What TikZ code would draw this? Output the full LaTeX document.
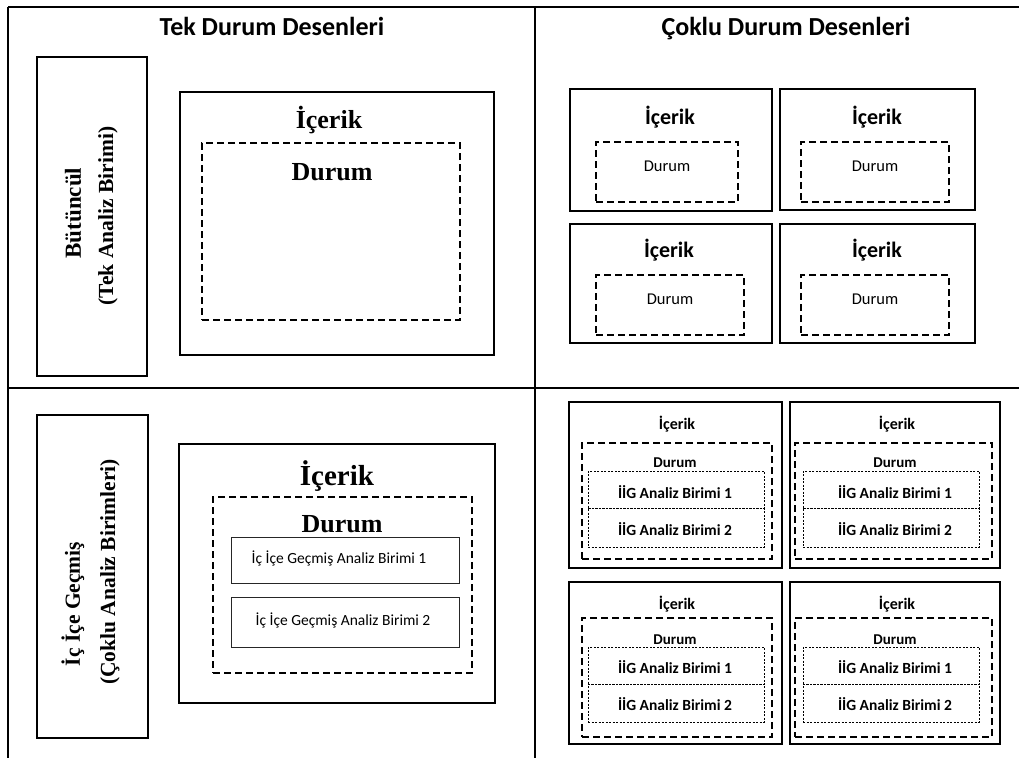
\documentclass[tikz,border=0pt]{standalone}
\usepackage{fontspec}
\setmainfont{Liberation Serif}
\newfontfamily\carl{Carlito}
\begin{document}
\begin{tikzpicture}[x=1pt,y=-1pt,
  grid/.style={line width=1.6pt},
  panel/.style={draw,line width=2.2pt,inner sep=0pt,outer sep=0pt},
  casebox/.style={draw,line width=2.2pt,dash pattern=on 7pt off 4pt,inner sep=0pt,outer sep=0pt},
  unitbox/.style={draw,line width=0.8pt,inner sep=0pt,outer sep=0pt},
  dotbox/.style={draw,line width=0.8pt,dash pattern=on 2pt off 1.5pt,inner sep=0pt,outer sep=0pt},
  head/.style={font=\carl\fontsize{26}{30}\selectfont\bfseries,anchor=base,inner sep=0pt},
  serifbig/.style={font=\fontsize{26}{30}\selectfont\bfseries,inner sep=0pt},
  sidetext/.style={font=\fontsize{21.5}{24}\selectfont\bfseries,rotate=90,inner sep=0pt},
  sanstitle/.style={font=\carl\fontsize{22}{26}\selectfont\bfseries,inner sep=0pt},
  sanscase/.style={font=\carl\fontsize{16.5}{20}\selectfont,inner sep=0pt},
  unittext/.style={font=\carl\fontsize{15.5}{18}\selectfont,inner sep=0pt},
  smalltitle/.style={font=\carl\fontsize{16}{19}\selectfont\bfseries,inner sep=0pt},
  smallcase/.style={font=\carl\fontsize{15}{18}\selectfont\bfseries,inner sep=0pt},
  iigtext/.style={font=\carl\fontsize{15.5}{18}\selectfont\bfseries,inner sep=0pt}
]
\useasboundingbox (0,0) rectangle (1019,758);

% table rules
\coordinate (tl) at (8,7);
\coordinate (tr) at (1019,7);
\coordinate (bl) at (8,758);
\coordinate (mt) at (535,7);
\coordinate (mb) at (535,758);
\coordinate (ml) at (8,388);
\coordinate (mr) at (1019,388);
\draw[grid] (tl) -- (tr);
\draw[grid] (tl) -- (bl);
\draw[grid] (mt) -- (mb);
\draw[grid] (ml) -- (mr);

% column headers
\node[head] (hsingle) at (272,35) {Tek Durum Desenleri};
\node[head] (hmulti) at (786,35) {Çoklu Durum Desenleri};

% ---- holistic, single case ----
\node[panel,minimum width=110pt,minimum height=319pt] (hol) at (92,216.5) {};
\node[sidetext,font=\fontsize{23}{26}\selectfont\bfseries] (holA) at (73,213) {Bütüncül};
\node[sidetext] (holB) at (108,216) {(Tek Analiz Birimi)};

\node[panel,minimum width=314pt,minimum height=263pt] (s1ctx) at (337,223.5) {};
\node[casebox,minimum width=258pt,minimum height=177pt] (s1case) at (331,231.5) {};
\node[serifbig] (s1ctxT) at (329,120) {İçerik};
\node[serifbig] (s1caseT) at (332,172) {Durum};

% ---- holistic, multiple cases ----
\node[panel,minimum width=202pt,minimum height=122pt] (mA) at (671,150) {};
\node[casebox,minimum width=142pt,minimum height=60pt] (mAc) at (667,172) {};
\node[sanstitle] (mAt) at (670,117) {İçerik};
\node[sanscase] (mAd) at (667,166) {Durum};

\node[panel,minimum width=195pt,minimum height=121pt] (mB) at (877.5,149.5) {};
\node[casebox,minimum width=148pt,minimum height=60pt] (mBc) at (875,172) {};
\node[sanstitle] (mBt) at (877,117) {İçerik};
\node[sanscase] (mBd) at (875,166) {Durum};

\node[panel,minimum width=202pt,minimum height=119pt] (mC) at (671,283.5) {};
\node[casebox,minimum width=148pt,minimum height=60pt] (mCc) at (670,305) {};
\node[sanstitle] (mCt) at (669,250) {İçerik};
\node[sanscase] (mCd) at (670,299) {Durum};

\node[panel,minimum width=195pt,minimum height=119pt] (mD) at (877.5,283.5) {};
\node[casebox,minimum width=148pt,minimum height=60pt] (mDc) at (875,305) {};
\node[sanstitle] (mDt) at (877,250) {İçerik};
\node[sanscase] (mDd) at (875,299) {Durum};

% ---- embedded, single case ----
\node[panel,minimum width=111pt,minimum height=323pt] (emb) at (92.5,576.5) {};
\node[sidetext] (embA) at (73,604) {İç İçe Geçmiş};
\node[sidetext] (embB) at (110,572) {(Çoklu Analiz Birimleri)};

\node[panel,minimum width=316pt,minimum height=259pt] (s2ctx) at (337,573.5) {};
\node[casebox,minimum width=259pt,minimum height=176pt] (s2case) at (342.5,585) {};
\node[serifbig,font=\fontsize{29}{33}\selectfont\bfseries] (s2ctxT) at (337,476) {İçerik};
\node[serifbig] (s2caseT) at (342,524) {Durum};
\node[unitbox,draw=black!85,minimum width=228pt,minimum height=46pt] (s2u1) at (345,560) {};
\node[unitbox,draw=black!85,minimum width=228pt,minimum height=50pt] (s2u2) at (345,622) {};
\node[unittext] (s2u1T) at (339,558) {İç İçe Geçmiş Analiz Birimi 1};
\node[unittext] (s2u2T) at (343,620) {İç İçe Geçmiş Analiz Birimi 2};

% ---- embedded, multiple cases ----
% upper left
\node[panel,minimum width=213pt,minimum height=166pt] (eA) at (675.5,485) {};
\node[casebox,minimum width=190pt,minimum height=116pt] (eAc) at (677,501) {};
\node[dotbox,minimum width=176pt,minimum height=37pt] (eA1) at (676,489.5) {};
\node[dotbox,minimum width=176pt,minimum height=39pt] (eA2) at (676,527.5) {};
\node[smalltitle] (eAt) at (677,424) {İçerik};
\node[smallcase] (eAd) at (675,463) {Durum};
\node[iigtext] (eA1T) at (675,492) {İİG Analiz Birimi 1};
\node[iigtext] (eA2T) at (675,529) {İİG Analiz Birimi 2};
% upper right
\node[panel,minimum width=210pt,minimum height=166pt] (eB) at (895,485) {};
\node[casebox,minimum width=197pt,minimum height=116pt] (eBc) at (893.5,501) {};
\node[dotbox,minimum width=176pt,minimum height=37pt] (eB1) at (891,489.5) {};
\node[dotbox,minimum width=176pt,minimum height=39pt] (eB2) at (891,527.5) {};
\node[smalltitle] (eBt) at (897,424) {İçerik};
\node[smallcase] (eBd) at (895,463) {Durum};
\node[iigtext] (eB1T) at (895,492) {İİG Analiz Birimi 1};
\node[iigtext] (eB2T) at (895,529) {İİG Analiz Birimi 2};
% lower left
\node[panel,minimum width=213pt,minimum height=162pt] (eC) at (675.5,663) {};
\node[casebox,minimum width=190pt,minimum height=119pt] (eCc) at (677,677.5) {};
\node[dotbox,minimum width=176pt,minimum height=37pt] (eC1) at (676,665.5) {};
\node[dotbox,minimum width=176pt,minimum height=38pt] (eC2) at (676,703) {};
\node[smalltitle] (eCt) at (677,604) {İçerik};
\node[smallcase] (eCd) at (675,640) {Durum};
\node[iigtext] (eC1T) at (675,667) {İİG Analiz Birimi 1};
\node[iigtext] (eC2T) at (675,704) {İİG Analiz Birimi 2};
% lower right
\node[panel,minimum width=210pt,minimum height=162pt] (eD) at (895,663) {};
\node[casebox,minimum width=197pt,minimum height=119pt] (eDc) at (893.5,677.5) {};
\node[dotbox,minimum width=176pt,minimum height=37pt] (eD1) at (891,665.5) {};
\node[dotbox,minimum width=176pt,minimum height=38pt] (eD2) at (891,703) {};
\node[smalltitle] (eDt) at (897,604) {İçerik};
\node[smallcase] (eDd) at (895,640) {Durum};
\node[iigtext] (eD1T) at (895,667) {İİG Analiz Birimi 1};
\node[iigtext] (eD2T) at (895,704) {İİG Analiz Birimi 2};
\end{tikzpicture}
\end{document}
